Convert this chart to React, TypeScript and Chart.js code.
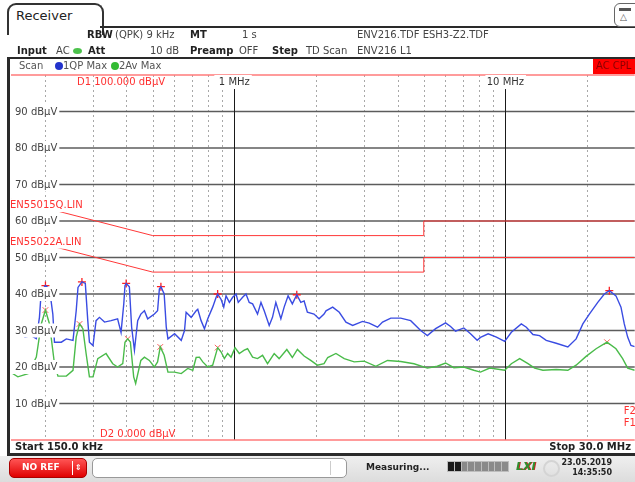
import React, { useEffect, useRef } from "react";
import { Chart, registerables } from "chart.js";

Chart.register(...registerables);

// ---- axis definitions ----
const FREQ_MIN = 0.15; // MHz
const FREQ_MAX = 30; // MHz
const LEVEL_MIN = 0;
const LEVEL_MAX = 100;
const yTicks = [10, 20, 30, 40, 50, 60, 70, 80, 90];
const yTickLabels = ["10 dBµV", "20 dBµV", "30 dBµV", "40 dBµV", "50 dBµV", "60 dBµV", "70 dBµV", "80 dBµV", "90 dBµV"];
const minorFreqs = [0.2, 0.3, 0.4, 0.5, 0.6, 0.7, 0.8, 0.9, 2, 3, 4, 5, 6, 7, 8, 9, 20];
const majorFreqs = [1, 10];
const majorFreqLabels = ["1 MHz", "10 MHz"];

// ---- trace 1: QP Max (blue) ----
const qpFreq = [
  0.15, 0.159, 0.169, 0.178, 0.186, 0.191, 0.194, 0.201, 0.208, 0.214,
  0.217, 0.23, 0.24, 0.254, 0.261, 0.265, 0.274, 0.282, 0.288, 0.292,
  0.301, 0.309, 0.318, 0.332, 0.351, 0.371, 0.382, 0.391, 0.395, 0.399,
  0.41, 0.418, 0.428, 0.44, 0.452, 0.466, 0.479, 0.507, 0.521, 0.529,
  0.536, 0.551, 0.561, 0.569, 0.602, 0.637, 0.655, 0.664, 0.693, 0.723,
  0.733, 0.754, 0.776, 0.798, 0.832, 0.857, 0.868, 0.894, 0.914, 0.932,
  0.959, 0.986, 1.015, 1.034, 1.073, 1.104, 1.135, 1.168, 1.218, 1.254,
  1.289, 1.345, 1.383, 1.423, 1.485, 1.527, 1.579, 1.637, 1.7, 1.759,
  1.809, 1.86, 1.968, 2.054, 2.143, 2.179, 2.306, 2.439, 2.581, 2.732,
  2.973, 3.145, 3.376, 3.522, 3.778, 4.111, 4.474, 4.87, 5.155, 5.529,
  6.017, 6.278, 6.549, 7.027, 7.436, 7.87, 8.093, 8.64, 9.266, 9.94,
  10.52, 11.45, 11.95, 12.64, 13.37, 14.15, 15.4, 17.0, 18.24, 19.31,
  20.41, 21.92, 23.18, 24.18, 25.59, 26.7, 27.46, 28.26, 29.06, 30,
];
const qpLevel = [
  31.4, 29.5, 28.2, 28.6, 27.8, 33.6, 40.9, 42.3, 41.4, 34.5,
  26.8, 26.8, 27.7, 27.3, 35.4, 41.8, 43.3, 42.9, 32.7, 26.8,
  25.9, 32.7, 33.6, 32.3, 32.7, 33.2, 29.5, 37.3, 42.3, 42.9,
  42.0, 30.9, 24.6, 32.7, 34.5, 35.4, 33.2, 34.5, 35.4, 41.4,
  42.0, 40.0, 30.9, 27.7, 29.1, 27.3, 30.0, 35.0, 33.6, 35.4,
  35.8, 32.7, 30.5, 33.2, 36.4, 39.1, 40.0, 38.5, 36.4, 39.5,
  37.7, 39.1, 40.0, 37.7, 39.1, 40.0, 37.7, 37.3, 34.5, 37.7,
  35.4, 31.4, 33.6, 37.7, 33.2, 36.4, 39.5, 37.3, 39.8, 37.7,
  38.1, 35.0, 34.5, 33.2, 34.5, 35.4, 36.4, 35.0, 32.3, 31.4,
  32.5, 32.0, 30.9, 32.3, 33.4, 33.4, 32.7, 30.0, 28.6, 30.5,
  32.1, 31.1, 29.8, 30.7, 29.1, 27.3, 28.1, 29.1, 28.2, 27.0,
  29.5, 31.8, 30.9, 28.9, 28.6, 27.3, 26.5, 25.5, 27.7, 31.8,
  34.5, 37.7, 40.0, 40.9, 39.5, 36.4, 31.8, 28.2, 25.9, 25.6,
];

// ---- trace 2: Av Max (green) ----
const avFreq = [
  0.15, 0.159, 0.1734, 0.186, 0.194, 0.201, 0.208, 0.217, 0.2235, 0.24,
  0.254, 0.261, 0.2685, 0.2762, 0.2839, 0.292, 0.301, 0.3135, 0.3363, 0.356,
  0.371, 0.3876, 0.395, 0.4043, 0.4136, 0.4253, 0.4325, 0.452, 0.466, 0.4858,
  0.507, 0.521, 0.5331, 0.551, 0.569, 0.602, 0.637, 0.6735, 0.7027, 0.723,
  0.7436, 0.7648, 0.798, 0.832, 0.868, 0.894, 0.9189, 0.9449, 0.9725, 1.006,
  1.043, 1.088, 1.119, 1.168, 1.218, 1.271, 1.326, 1.403, 1.463, 1.562,
  1.637, 1.709, 1.809, 1.914, 2.024, 2.143, 2.211, 2.371, 2.544, 2.769,
  3.013, 3.327, 3.674, 4.111, 4.601, 5.155, 5.61, 6.017, 6.454, 7.027,
  7.647, 8.093, 8.757, 9.94, 10.52, 11.29, 12.12, 12.82, 13.76, 15.4,
  17.0, 18.24, 19.85, 21.61, 23.71, 25.59, 27.08, 28.26, 30,
];
const avLevel = [
  18.5, 17.3, 18.2, 22.7, 31.8, 35.6, 31.8, 20.9, 17.5, 17.5,
  19.1, 28.2, 31.8, 30.5, 23.7, 17.3, 17.3, 22.3, 23.7, 20.9,
  20.0, 20.9, 26.8, 27.7, 26.8, 17.3, 15.5, 21.8, 22.7, 21.8,
  20.0, 21.4, 25.5, 23.2, 18.6, 18.6, 18.2, 19.6, 19.1, 22.6,
  22.7, 21.4, 20.0, 20.5, 25.3, 24.1, 22.3, 23.7, 22.7, 25.3,
  23.7, 24.6, 25.0, 22.7, 22.3, 23.2, 20.9, 23.7, 22.3, 24.8,
  22.6, 24.8, 23.0, 21.8, 20.5, 20.9, 22.6, 23.7, 22.3, 21.4,
  21.6, 20.2, 21.8, 21.5, 20.9, 19.7, 20.2, 21.1, 19.8, 20.0,
  19.1, 18.6, 19.7, 19.1, 20.9, 22.3, 20.9, 19.7, 19.1, 19.3,
  19.1, 20.5, 22.9, 25.0, 26.8, 25.0, 22.3, 19.7, 19.1,
];

// ---- peak markers ----
const qpPeakFreq = [0.201, 0.274, 0.399, 0.536, 0.868, 1.7, 24.18];
const qpPeakLevel = [42.3, 43.3, 42.9, 42.0, 40.0, 39.8, 40.9];
const avPeakFreq = [0.201, 0.2685, 0.4043, 0.5331, 0.868, 23.71];
const avPeakLevel = [35.6, 31.8, 27.7, 25.5, 25.3, 26.8];

// ---- limit lines ----
const limQFreq = [0.15, 0.5, 5, 5, 30];
const limQLevel = [66, 56, 56, 60, 60];
const limAFreq = [0.15, 0.5, 5, 5, 30];
const limALevel = [56, 46, 46, 50, 50];
const limQName = "EN55015Q.LIN";
const limAName = "EN55022A.LIN";

const FONT = '"DejaVu Sans", Verdana, sans-serif';

const pts = (xs: number[], ys: number[]) => xs.map((x, i) => ({ x, y: ys[i] }));

function labelBox(
  ctx: CanvasRenderingContext2D,
  text: string,
  x: number,
  cy: number,
  color: string,
  bgFrom: number | null,
  align: CanvasTextAlign = "left"
) {
  ctx.font = `10px ${FONT}`;
  const w = ctx.measureText(text).width;
  const left = align === "center" ? x - w / 2 : x;
  if (bgFrom !== null) {
    const start = Math.min(bgFrom, left - 1);
    ctx.fillStyle = "#ffffff";
    ctx.fillRect(start, cy - 7, left + w + 2 - start, 14);
  }
  ctx.fillStyle = color;
  ctx.textAlign = "left";
  ctx.textBaseline = "middle";
  ctx.fillText(text, left, cy + 0.5);
}

const overlayPlugin = {
  id: "receiverOverlay",
  beforeDatasetsDraw(chart: any) {
    const { ctx, chartArea: a, scales } = chart;
    const x = scales.x;
    const y = scales.y;
    ctx.save();
    // minor (dotted) vertical grid
    ctx.strokeStyle = "#a8a8a8";
    ctx.lineWidth = 1;
    ctx.setLineDash([2, 3]);
    for (const f of minorFreqs) {
      const px = Math.round(x.getPixelForValue(f)) + 0.5;
      ctx.beginPath();
      ctx.moveTo(px, a.top);
      ctx.lineTo(px, a.bottom);
      ctx.stroke();
    }
    ctx.setLineDash([]);
    // horizontal grid
    ctx.strokeStyle = "#5c5c5c";
    ctx.lineWidth = 1.6;
    for (const v of yTicks) {
      const py = y.getPixelForValue(v);
      ctx.beginPath();
      ctx.moveTo(a.left, py);
      ctx.lineTo(a.right, py);
      ctx.stroke();
    }
    // decade lines
    ctx.strokeStyle = "#1a1a1a";
    ctx.lineWidth = 1;
    for (const f of majorFreqs) {
      const px = Math.round(x.getPixelForValue(f)) + 0.5;
      ctx.beginPath();
      ctx.moveTo(px, a.top);
      ctx.lineTo(px, a.bottom);
      ctx.stroke();
    }
    // display lines D1 / D2
    ctx.strokeStyle = "#ff7a7a";
    ctx.lineWidth = 1.5;
    for (const v of [LEVEL_MAX, LEVEL_MIN]) {
      const py = y.getPixelForValue(v);
      ctx.beginPath();
      ctx.moveTo(a.left, py);
      ctx.lineTo(a.right, py);
      ctx.stroke();
    }
    ctx.restore();
  },
  afterDatasetsDraw(chart: any) {
    const { ctx, chartArea: a, scales } = chart;
    const x = scales.x;
    const y = scales.y;
    ctx.save();
    yTicks.forEach((v, i) => {
      labelBox(ctx, yTickLabels[i], a.left + 4, y.getPixelForValue(v), "#444444", a.left);
    });
    majorFreqs.forEach((f, i) => {
      labelBox(ctx, majorFreqLabels[i], x.getPixelForValue(f), a.top + 7, "#333333", x.getPixelForValue(f) - 20, "center");
    });
    labelBox(ctx, "D1 100.000 dBµV", 77, a.top + 7, "#ff3030", null);
    labelBox(ctx, "D2 0.000 dBµV", 100, a.bottom - 6, "#ff3030", null);
    labelBox(ctx, limQName, a.left - 1, y.getPixelForValue(limQLevel[0]) + 6, "#ff3030", a.left);
    labelBox(ctx, limAName, a.left - 1, y.getPixelForValue(limALevel[0]) + 6, "#ff3030", a.left);
    labelBox(ctx, "F2", a.right - 11, y.getPixelForValue(8), "#ff3030", null);
    labelBox(ctx, "F1", a.right - 11, y.getPixelForValue(4.6), "#ff3030", null);
    ctx.restore();
  },
};

type TP = { x: number; y: number; children: React.ReactNode; size?: number; bold?: boolean; color?: string; align?: "left" | "right"; style?: React.CSSProperties };
function T({ x, y, children, size = 10, bold = false, color = "#222", align = "left", style }: TP) {
  const lh = Math.round(size * 1.4);
  const pos: React.CSSProperties = align === "right" ? { right: 635 - x } : { left: x };
  return (
    <div
      style={{
        position: "absolute",
        top: y - lh / 2,
        ...pos,
        height: lh,
        lineHeight: `${lh}px`,
        fontSize: size,
        fontFamily: FONT,
        fontWeight: bold ? 700 : 400,
        color,
        whiteSpace: "nowrap",
        ...style,
      }}
    >
      {children}
    </div>
  );
}

export default function App() {
  const canvasRef = useRef<HTMLCanvasElement | null>(null);

  useEffect(() => {
    if (!canvasRef.current) return;
    const chart = new Chart(canvasRef.current, {
      type: "line",
      data: {
        datasets: [
          { label: limQName, data: pts(limQFreq, limQLevel), borderColor: "#ff3838", borderWidth: 1, pointRadius: 0 },
          { label: limAName, data: pts(limAFreq, limALevel), borderColor: "#ff3838", borderWidth: 1, pointRadius: 0 },
          { label: "2Av Max", data: pts(avFreq, avLevel), borderColor: "#4abb4a", borderWidth: 1.4, pointRadius: 0 },
          { label: "1QP Max", data: pts(qpFreq, qpLevel), borderColor: "#3a4ce2", borderWidth: 1.4, pointRadius: 0 },
          {
            label: "QP peaks",
            data: pts(qpPeakFreq, qpPeakLevel),
            showLine: false,
            pointStyle: "cross",
            pointRadius: 4,
            borderColor: "#ff2020",
            backgroundColor: "#ff2020",
            pointBorderWidth: 1.3,
          },
          {
            label: "Av peaks",
            data: pts(avPeakFreq, avPeakLevel),
            showLine: false,
            pointStyle: "crossRot",
            pointRadius: 4,
            borderColor: "#ff5a5a",
            backgroundColor: "#ff5a5a",
            pointBorderWidth: 1,
          },
        ],
      },
      options: {
        animation: false,
        responsive: false,
        maintainAspectRatio: false,
        events: [],
        layout: { padding: { left: 11, top: 75, right: 3, bottom: 42 } },
        elements: { line: { tension: 0 } },
        plugins: { legend: { display: false }, tooltip: { enabled: false }, title: { display: false } },
        scales: {
          x: { type: "logarithmic", min: FREQ_MIN, max: FREQ_MAX, display: false },
          y: { type: "linear", min: LEVEL_MIN, max: LEVEL_MAX, display: false },
        },
      },
      plugins: [overlayPlugin],
    } as any);
    return () => chart.destroy();
  }, []);

  return (
    <div style={{ position: "fixed", left: 0, top: 0, width: 635, height: 482, overflow: "hidden", background: "#ffffff" }}>
      <canvas ref={canvasRef} width={640} height={482} style={{ position: "absolute", left: 0, top: 0, width: 640, height: 482 }} />

      {/* tab */}
      <div style={{ position: "absolute", left: 7, top: 3, width: 93, height: 30, border: "2px solid #333", borderBottom: "none", borderRadius: "9px 9px 0 0", background: "#fff" }} />
      <T x={16} y={16} size={13} color="#222">Receiver</T>
      <div style={{ position: "absolute", left: 100, top: 26, width: 540, height: 2, background: "#2a2a2a" }} />
      {/* top right icon */}
      <div style={{ position: "absolute", left: 614, top: 3, width: 26, height: 22, border: "1.5px solid #666", borderRadius: 6, background: "#fff" }}>
        <div style={{ position: "absolute", left: 4, top: 4, width: 12, height: 3, background: "#555" }} />
        <div style={{ position: "absolute", left: 5, top: 8, fontSize: 9, lineHeight: "10px", color: "#555", fontFamily: FONT }}>△</div>
      </div>

      {/* header row 1 */}
      <T x={87} y={35} bold>RBW</T>
      <T x={115} y={35} color="#444">(QPK) 9 kHz</T>
      <T x={190} y={35} bold>MT</T>
      <T x={242} y={35} color="#444">1 s</T>
      <T x={357} y={35} color="#444">ENV216.TDF ESH3-Z2.TDF</T>
      {/* header row 2 */}
      <T x={17} y={51} bold>Input</T>
      <T x={56} y={51} color="#444">AC</T>
      <div style={{ position: "absolute", left: 73, top: 48, width: 9, height: 6, borderRadius: "50%", background: "#4cc24c" }} />
      <T x={88} y={51} bold>Att</T>
      <T x={150} y={51} color="#444">10 dB</T>
      <T x={190} y={51} bold>Preamp</T>
      <T x={239} y={51} color="#444">OFF</T>
      <T x={272} y={51} bold>Step</T>
      <T x={306} y={51} color="#444">TD Scan</T>
      <T x={357} y={51} color="#444">ENV216 L1</T>

      {/* diagram frame */}
      <div style={{ position: "absolute", left: 7, top: 57, width: 630, height: 2, background: "#2a2a2a" }} />
      <div style={{ position: "absolute", left: 7, top: 57, width: 3, height: 399, background: "#2a2a2a" }} />
      <div style={{ position: "absolute", left: 7, top: 453, width: 630, height: 3, background: "#2a2a2a" }} />
      <T x={19} y={66} color="#555">Scan</T>
      <div style={{ position: "absolute", left: 55, top: 62, width: 8, height: 8, borderRadius: "50%", background: "#2233cc" }} />
      <T x={63} y={66} color="#555">1QP Max</T>
      <div style={{ position: "absolute", left: 111, top: 62, width: 8, height: 8, borderRadius: "50%", background: "#33bb33" }} />
      <T x={119} y={66} color="#555">2Av Max</T>
      <div style={{ position: "absolute", left: 593, top: 59, width: 45, height: 15, background: "#ff0000" }} />
      <T x={596} y={66} color="#8a0000">AC CPL</T>

      {/* start / stop */}
      <T x={15} y={447} bold color="#222">Start 150.0 kHz</T>
      <T x={631} y={447} bold color="#222" align="right">Stop 30.0 MHz</T>

      {/* status bar */}
      <div style={{ position: "absolute", left: 0, top: 456, width: 635, height: 26, background: "linear-gradient(#efefef, #dcdcdc)" }} />
      <div style={{ position: "absolute", left: 9, top: 458, width: 76, height: 18, borderRadius: 5, border: "1px solid #a00", background: "linear-gradient(#ff5555, #e00000)" }}>
        <div style={{ position: "absolute", left: 62, top: 2, width: 1, height: 14, background: "#fff" }} />
      </div>
      <T x={22} y={467} bold size={9} color="#ffffff">NO REF</T>
      <T x={75} y={467} bold size={8} color="#ffffff">⇕</T>
      <div style={{ position: "absolute", left: 92, top: 458, width: 253, height: 18, borderRadius: 5, border: "1px solid #999", background: "#ffffff" }}>
        <div style={{ position: "absolute", left: 237, top: 2, width: 1, height: 14, background: "#ccc" }} />
      </div>
      <T x={366} y={467} bold size={9} color="#222">Measuring...</T>
      <div style={{ position: "absolute", left: 447, top: 461, width: 62, height: 11, background: "#bdbdbd", display: "flex", gap: 1, padding: 1, boxSizing: "border-box" }}>
        {[0, 1, 2, 3, 4, 5, 6, 7, 8].map((i) => (
          <div key={i} style={{ flex: 1, background: i < 2 ? "#1a1a1a" : "#8a8a8a" }} />
        ))}
      </div>
      <T x={516} y={466} bold size={11} color="#2f8f2f" style={{ fontStyle: "italic", textShadow: "1px 0 #c22" }}>LXI</T>
      <div style={{ position: "absolute", left: 543, top: 460, width: 13, height: 13, borderRadius: "50%", border: "2px solid #d4d4d4" }} />
      <T x={612} y={462} bold size={8} color="#222" align="right">23.05.2019</T>
      <T x={612} y={472} bold size={8} color="#222" align="right">14:35:50</T>
    </div>
  );
}
